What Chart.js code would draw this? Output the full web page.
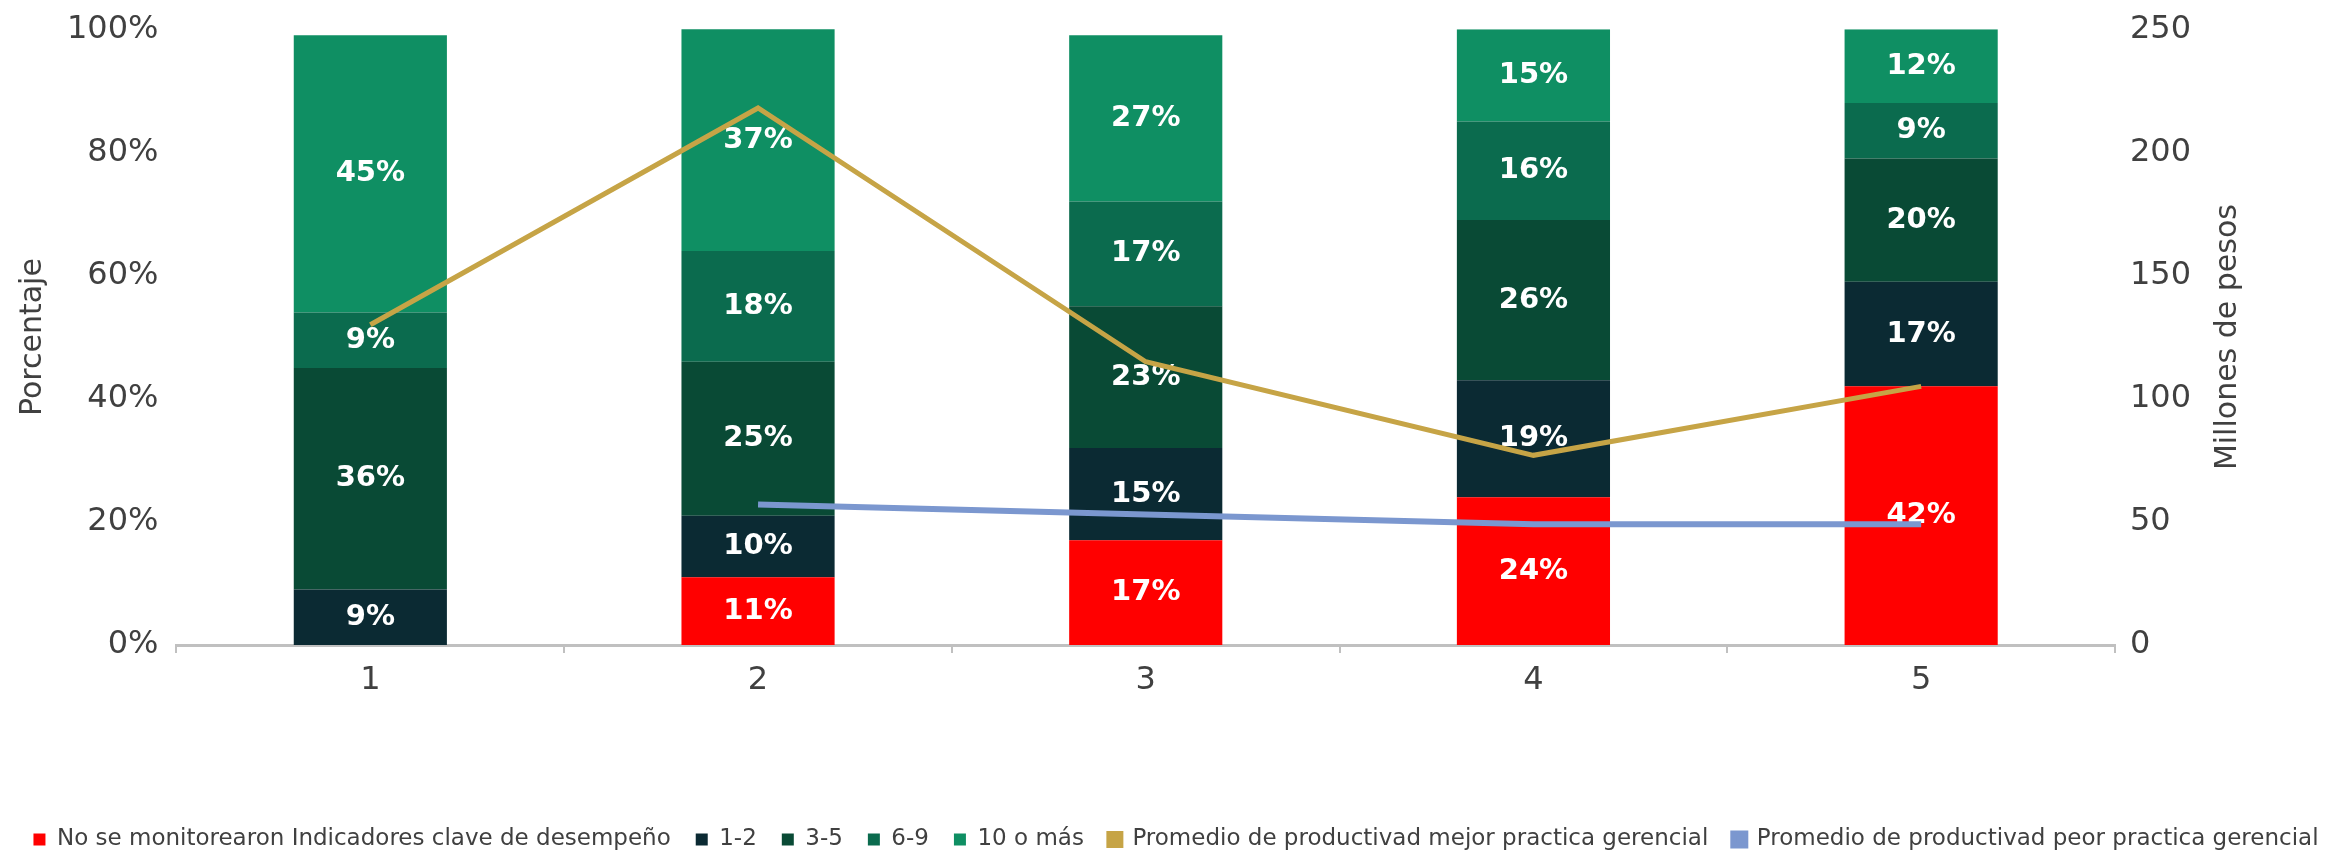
<!DOCTYPE html>
<html lang="es">
<head>
<meta charset="utf-8">
<title>Indicadores clave de desempeño y productividad</title>
<script src="https://cdn.jsdelivr.net/npm/chart.js@4.4.1/dist/chart.umd.min.js"></script>
<style>
  html, body { margin: 0; padding: 0; background: #fff; }
  #wrap { width: 2352px; height: 861px; position: relative; }
</style>
</head>
<body>
<div id="wrap"><canvas id="chart"></canvas></div>
<script>
// Grupos (eje x) y porcentaje de empresas por número de indicadores monitoreados
const categorias = ['1', '2', '3', '4', '5'];
const sinMonitoreo = [0, 11, 17, 24, 42];
const kpi1a2 = [9, 10, 15, 19, 17];
const kpi3a5 = [36, 25, 23, 26, 20];
const kpi6a9 = [9, 18, 17, 16, 9];
const kpi10mas = [45, 37, 27, 15, 12];

// Productividad promedio, millones de pesos (eje derecho)
const promedioMejor = [130, 218, 115, 77, 105];
const promedioPeor = [null, 57, 53, 49, 49];

const colorTexto = '#404040';
const fuente = '"DejaVu Sans", sans-serif';

Chart.defaults.font.family = fuente;
Chart.defaults.color = colorTexto;

// Etiquetas blancas dentro de cada segmento; se pintan antes que las líneas
const etiquetasBarras = {
  id: 'etiquetasBarras',
  afterDatasetDraw(chart, args) {
    const meta = args.meta;
    if (meta.type !== 'bar') return;
    const valores = chart.data.datasets[args.index].data;
    const tope = chart.chartArea.top;
    const ctx = chart.ctx;
    ctx.save();
    ctx.font = 'bold 29px ' + fuente;
    ctx.fillStyle = '#ffffff';
    ctx.textAlign = 'center';
    ctx.textBaseline = 'middle';
    meta.data.forEach((b, i) => {
      if (!valores[i]) return;
      // si el segmento pasa del 100 % se centra en la parte visible
      const y = (Math.max(b.y, tope) + b.base) / 2;
      ctx.fillText(valores[i] + '%', b.x, y);
    });
    ctx.restore();
  }
};

// Título del eje derecho, leído de abajo hacia arriba
const tituloDerecho = {
  id: 'tituloDerecho',
  afterDraw(chart) {
    const s = chart.scales.y1;
    const ctx = chart.ctx;
    ctx.save();
    ctx.translate(s.left + 113, (s.top + s.bottom) / 2);
    ctx.rotate(-Math.PI / 2);
    ctx.font = '30px ' + fuente;
    ctx.fillStyle = colorTexto;
    ctx.textAlign = 'center';
    ctx.textBaseline = 'middle';
    ctx.fillText('Millones de pesos', 0, 0);
    ctx.restore();
  }
};

const barra = (label, data, color) => ({
  label,
  data,
  backgroundColor: color,
  borderWidth: 0,
  stack: 'empresas',
  yAxisID: 'y',
  order: 1,
  barPercentage: 0.395,
  categoryPercentage: 1
});

const linea = (label, data, color, ancho) => ({
  type: 'line',
  label,
  data,
  borderColor: color,
  backgroundColor: color,
  borderWidth: ancho,
  pointRadius: 0,
  tension: 0,
  spanGaps: false,
  yAxisID: 'y1',
  order: 0
});

new Chart(document.getElementById('chart'), {
  type: 'bar',
  data: {
    labels: categorias,
    datasets: [
      barra('No se monitorearon Indicadores clave de desempeño', sinMonitoreo, '#ff0000'),
      barra('1-2', kpi1a2, '#0b2a33'),
      barra('3-5', kpi3a5, '#094a35'),
      barra('6-9', kpi6a9, '#0b6b4e'),
      barra('10 o más', kpi10mas, '#0f8f63'),
      linea('Promedio de productivad mejor practica gerencial', promedioMejor, '#c6a446', 5),
      linea('Promedio de productivad peor practica gerencial', promedioPeor, '#7b97cf', 6)
    ]
  },
  options: {
    responsive: true,
    maintainAspectRatio: false,
    animation: false,
    layout: { padding: { top: 8, left: 0, right: 0, bottom: 0 } },
    plugins: {
      tooltip: { enabled: false },
      legend: {
        position: 'bottom',
        labels: {
          font: { size: 23 },
          color: colorTexto,
          boxWidth: 12,
          boxHeight: 12,
          padding: 25,
          sort: (a, b) => a.datasetIndex - b.datasetIndex
        }
      }
    },
    scales: {
      x: {
        stacked: true,
        grid: {
          display: true,
          drawOnChartArea: false,
          drawTicks: true,
          tickLength: 8,
          color: '#c0c0c0',
          lineWidth: 2
        },
        border: { color: '#c0c0c0', width: 3 },
        ticks: { font: { size: 32 }, color: colorTexto, padding: 8 },
        afterFit(s) { s.height = 158; }
      },
      y: {
        stacked: true,
        position: 'left',
        min: 0,
        max: 100,
        grid: { display: false },
        border: { display: false },
        ticks: {
          stepSize: 20,
          padding: 10,
          font: { size: 32 },
          color: colorTexto,
          callback: v => v + '%'
        },
        title: {
          display: true,
          text: 'Porcentaje',
          font: { size: 30 },
          color: colorTexto,
          padding: { top: 15, bottom: 6 }
        }
      },
      y1: {
        position: 'right',
        min: 0,
        max: 250,
        grid: { display: false },
        border: { display: false },
        ticks: {
          stepSize: 50,
          padding: 7,
          font: { size: 32 },
          color: colorTexto
        },
        afterFit(s) { s.width = 237; }
      }
    }
  },
  plugins: [etiquetasBarras, tituloDerecho]
});
</script>
</body>
</html>
